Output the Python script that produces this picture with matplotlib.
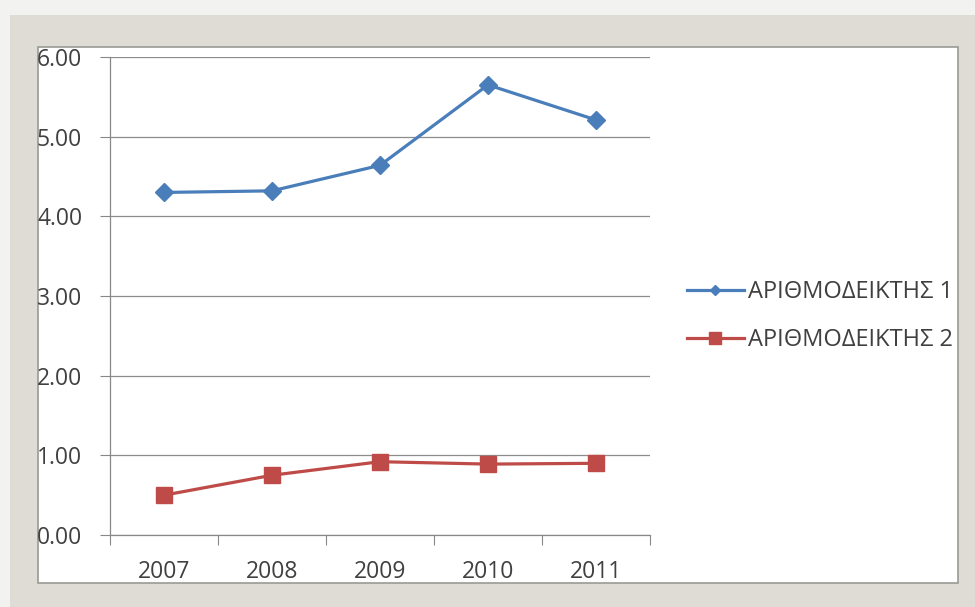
import matplotlib.pyplot as plt
from matplotlib.patches import Rectangle

plt.rcParams['font.family'] = ['Open Sans', 'DejaVu Sans']

# data
years = ['2007', '2008', '2009', '2010', '2011']
deiktis_1 = [4.30, 4.32, 4.64, 5.65, 5.21]
deiktis_2 = [0.50, 0.75, 0.92, 0.89, 0.90]
labels = ['ΑΡΙΘΜΟΔΕΙΚΤΗΣ 1', 'ΑΡΙΘΜΟΔΕΙΚΤΗΣ 2']
y_ticks = [0, 1, 2, 3, 4, 5, 6]

W, H = 975, 607
fig = plt.figure(figsize=(W / 100, H / 100), dpi=100)
fig.patch.set_facecolor('#f2f2f0')

def px_rect(x0, y0, x1, y1, **kw):
    # rectangle given in pixels from the top-left corner
    return Rectangle((x0 / W, 1 - y1 / H), (x1 - x0) / W, (y1 - y0) / H,
                     transform=fig.transFigure, zorder=-10, **kw)

# frame around the chart
fig.patches.append(px_rect(10, 15, 975, 607, facecolor='#dedcd4', edgecolor='none'))
fig.patches.append(px_rect(38, 47, 958, 583, facecolor='white',
                           edgecolor='#9a9a96', linewidth=1.2))

ax = fig.add_axes([110 / W, 1 - 535 / H, 540 / W, 478 / H])
ax.set_facecolor('white')

x = range(len(years))
ax.plot(x, deiktis_1, color='#4a7ebb', linewidth=2.3, marker='D', markersize=9.5,
        label=labels[0])
ax.plot(x, deiktis_2, color='#be4b48', linewidth=2.3, marker='s', markersize=11.5,
        label=labels[1])

TXT = '#404040'
ax.set_xlim(-0.5, len(years) - 0.5)
ax.set_ylim(0, 6)
ax.set_xticks(list(x))
ax.set_xticklabels(years)
ax.set_xticks([i - 0.5 for i in range(len(years) + 1)], minor=True)
ax.tick_params(axis='x', which='major', length=0, pad=18, labelsize=16.5, labelcolor=TXT)
ax.tick_params(axis='x', which='minor', length=7, color='#888888', width=0.8, direction='out')
ax.set_yticks(y_ticks)
ax.set_yticklabels([f'{v:.2f}' for v in y_ticks])
ax.tick_params(axis='y', length=7, color='#888888', width=0.8, pad=13,
               labelsize=16.5, labelcolor=TXT)

ax.grid(axis='y', color='#8c8c8c', linewidth=0.9)
ax.set_axisbelow(True)
for s in ['top', 'right']:
    ax.spines[s].set_visible(False)
for s in ['left', 'bottom']:
    ax.spines[s].set_color('#888888')
    ax.spines[s].set_linewidth(0.9)

leg = ax.legend(loc='center left', bbox_to_anchor=(687 / W, 1 - 316 / H),
                bbox_transform=fig.transFigure, frameon=False,
                fontsize=17, handlelength=2.4, handletextpad=0.17,
                borderpad=0, borderaxespad=0, labelspacing=1.0, labelcolor=TXT)
leg.legend_handles[0].set_markersize(5.5)
leg.legend_handles[1].set_markersize(8.5)

fig.savefig('out.png', dpi=100, facecolor=fig.get_facecolor())
